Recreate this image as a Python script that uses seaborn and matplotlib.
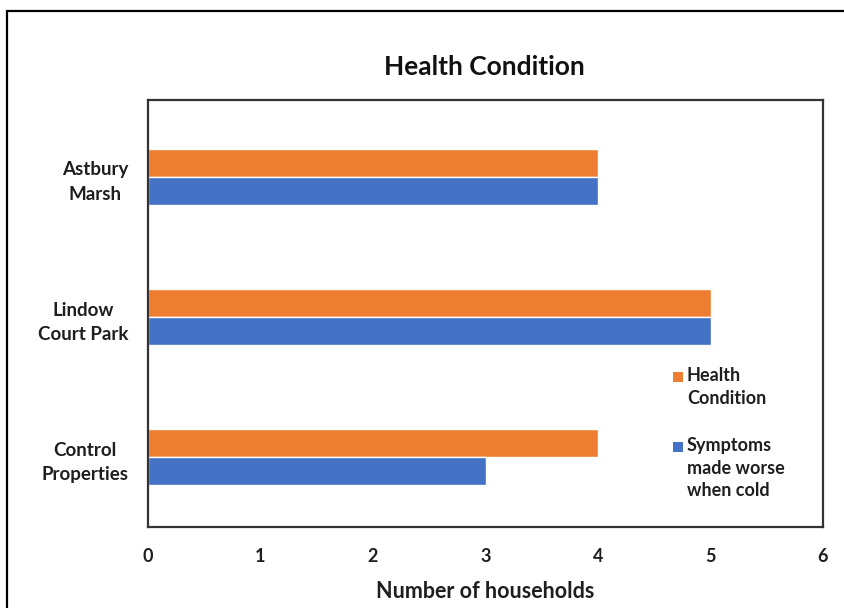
import matplotlib
matplotlib.use("Agg")
import matplotlib.pyplot as plt
import seaborn as sns
import pandas as pd
from matplotlib.patches import Rectangle

sites = ["Astbury\nMarsh", "Lindow\nCourt Park", "Control\nProperties"]
health_condition = [4, 5, 4]
worse_when_cold = [4, 5, 3]
series_names = ["Health\nCondition", "Symptoms\nmade worse\nwhen cold"]
x_ticks = [0, 1, 2, 3, 4, 5, 6]

df = pd.DataFrame({
    "site": sites * 2,
    "households": health_condition + worse_when_cold,
    "series": [series_names[0]] * 3 + [series_names[1]] * 3,
})

sns.set_theme(style="white")
plt.rcParams["font.family"] = ["Lato", "DejaVu Sans"]
plt.rcParams["font.weight"] = "bold"

W, H = 844, 608
fig = plt.figure(figsize=(W / 100, H / 100), dpi=100)
ax = fig.add_axes([148 / W, 1 - 527 / H, (823 - 148) / W, (527 - 100) / H])

sns.barplot(data=df, y="site", x="households", hue="series", orient="h",
            hue_order=series_names, palette=["#ED7D31", "#4472C4"],
            width=0.4, ax=ax, saturation=1)

txt = "#1e1e1e"
ax.set_xlim(0, 6)
ax.set_ylim(2.5, -0.55)
ax.set_xticks(x_ticks)
ax.set_xticklabels([str(t) for t in x_ticks], fontsize=13, fontweight="bold", color=txt)
ax.tick_params(axis="x", length=0, pad=15)
ax.tick_params(axis="y", length=0, pad=14)
for lab in ax.get_yticklabels():
    lab.set_fontsize(13.5)
    lab.set_fontweight("bold")
    lab.set_color(txt)
    lab.set_multialignment("center")
    lab.set_linespacing(1.55)
ax.set_ylabel("")
ax.set_xlabel("Number of households", fontsize=15.5, fontweight="bold", color=txt, labelpad=12)

for sp in ax.spines.values():
    sp.set_visible(True)
    sp.set_color("#333333")
    sp.set_linewidth(1.6)

# legend: colour square beside the first line of each entry
handles, labels = ax.get_legend_handles_labels()
ax.get_legend().remove()
leg_rows = [377, 447]
for h, lab, yp in zip(handles, labels, leg_rows):
    fig.add_artist(Rectangle((673 / W, 1 - (yp + 5) / H), 10 / W, 10 / H,
                             transform=fig.transFigure, facecolor=h.get_facecolor(),
                             edgecolor="none"))
    fig.text(687 / W, 1 - (yp - 10) / H, lab, ha="left", va="top", fontsize=13,
             fontweight="bold", color=txt, linespacing=1.4)

fig.text(484 / W, 1 - 67 / H, "Health Condition", ha="center", va="center",
         fontsize=19, fontweight="bold", color="#111111")

fig.add_artist(Rectangle((7 / W, -0.1), 1.2, 1 - 11 / H + 0.1,
                         transform=fig.transFigure, fill=False,
                         edgecolor="black", linewidth=1.6))

fig.savefig("out.png", dpi=100, facecolor="white")
